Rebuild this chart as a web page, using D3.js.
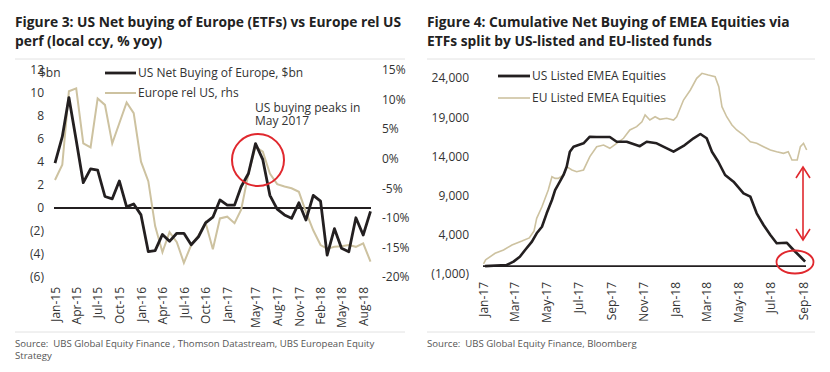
<!DOCTYPE html>
<html><head><meta charset="utf-8">
<script src="https://cdn.jsdelivr.net/npm/d3@7"></script>
<style>
body{margin:0;background:#fff;}
svg{display:block;font-family:"Open Sans",sans-serif;}
</style></head>
<body>
<svg id="c" width="830" height="372"></svg>
<script>
// ---------- Figure 3 data (monthly, Jan-15 .. Sep-18) ----------
const fig3Months = ["2015-01","2015-02","2015-03","2015-04","2015-05","2015-06","2015-07","2015-08","2015-09","2015-10","2015-11","2015-12",
"2016-01","2016-02","2016-03","2016-04","2016-05","2016-06","2016-07","2016-08","2016-09","2016-10","2016-11","2016-12",
"2017-01","2017-02","2017-03","2017-04","2017-05","2017-06","2017-07","2017-08","2017-09","2017-10","2017-11","2017-12",
"2018-01","2018-02","2018-03","2018-04","2018-05","2018-06","2018-07","2018-08","2018-09"];
const usNetBuying = [3.9,6.2,9.6,5.9,2.2,3.4,3.3,1.0,0.8,2.35,0.1,0.35,
-0.6,-3.8,-3.7,-2.3,-2.9,-2.2,-2.2,-3.2,-2.5,-1.3,-0.8,0.7,
0.25,0.25,1.85,3.0,5.6,4.2,1.1,-0.1,-0.6,-0.9,0.45,-1.05,
1.1,0.6,-4.1,-1.8,-3.5,-3.8,-0.85,-2.35,-0.3];
const europeRelUS = [-3.6,-1.0,11.4,11.9,2.6,1.9,10.2,9.1,2.6,6.0,9.5,7.7,
-0.5,-3.8,-11.4,-15.8,-12.4,-14.1,-17.6,-14.6,-13.0,-10.8,-15.3,-10.1,
-9.8,-10.9,-8.6,-2.5,2.0,1.2,-2.5,-4.3,-4.7,-5.0,-5.6,-9.0,
-12.1,-14.6,-15.2,-14.9,-14.8,-14.6,-14.9,-14.3,-17.4];
const fig3LeftTicks = [12,10,8,6,4,2,0,-2,-4,-6];
const fig3RightTicks = [15,10,5,0,-5,-10,-15,-20];
const fig3XLabels = ["2015-01","2015-04","2015-07","2015-10","2016-01","2016-04","2016-07","2016-10","2017-01","2017-05","2017-08","2017-11","2018-02","2018-05","2018-08"];

// ---------- Figure 4 data (cumulative, $m) ----------
const usListedDates = ["2017-01-05","2017-02-15","2017-02-28","2017-03-12","2017-03-22","2017-04-04","2017-04-13","2017-04-23","2017-05-02","2017-05-12","2017-05-18","2017-05-27","2017-06-03","2017-06-09","2017-06-15","2017-06-22","2017-07-11","2017-07-23","2017-08-05","2017-08-30","2017-09-12","2017-10-01","2017-10-26","2017-11-08","2017-11-27","2017-12-29","2018-01-17","2018-02-05","2018-02-18","2018-03-02","2018-03-12","2018-03-24","2018-04-06","2018-04-22","2018-05-11","2018-05-24","2018-06-05","2018-06-18","2018-07-01","2018-07-13","2018-08-01","2018-08-14","2018-08-27","2018-09-05"];
const usListedValues = [0,150,580,1200,2060,3120,4190,5030,6740,8440,9710,10770,11630,12690,14600,15240,15670,16510,16470,16470,15870,15870,15300,15870,15670,14600,15330,16310,16860,16310,14600,13320,11630,10770,9290,8860,6740,5250,3970,2920,2990,2060,1200,570];
const euListedDates = ["2017-01-02","2017-01-06","2017-01-24","2017-02-09","2017-02-25","2017-03-16","2017-03-30","2017-04-08","2017-04-13","2017-04-23","2017-05-05","2017-05-12","2017-05-18","2017-05-24","2017-06-03","2017-06-09","2017-06-19","2017-06-28","2017-07-11","2017-07-23","2017-08-05","2017-08-18","2017-08-30","2017-09-12","2017-09-25","2017-10-07","2017-10-20","2017-10-30","2017-11-05","2017-11-14","2017-11-24","2017-12-03","2017-12-16","2017-12-29","2018-01-04","2018-01-17","2018-01-30","2018-02-11","2018-02-21","2018-03-05","2018-03-18","2018-03-25","2018-03-31","2018-04-09","2018-04-19","2018-04-28","2018-05-11","2018-05-24","2018-06-05","2018-06-18","2018-07-01","2018-07-13","2018-07-26","2018-08-04","2018-08-11","2018-08-21","2018-08-27","2018-09-02","2018-09-08"];
const euListedValues = [300,800,1640,2060,2700,3200,3600,4500,6100,7580,9710,11410,11200,11200,11630,12690,12270,12050,12270,13970,15240,15450,15030,15670,16310,17370,17790,18420,19280,18640,19060,18730,18860,18640,19060,21190,22470,23960,24600,24380,24170,22890,20340,19060,18000,17370,16730,15870,15670,15240,14820,14600,14390,14600,13540,13540,15240,15670,14820];
const fig4YTicks = [24000,19000,14000,9000,4000,-1000];
const fig4XLabels = ["2017-01","2017-03","2017-05","2017-07","2017-09","2017-11","2018-01","2018-03","2018-05","2018-07","2018-09"];

const BLACK = "#231f20", GOLD = "#cdc2a0", RED = "#e0282e", TXT = "#333";
const svg = d3.select("#c");
const pm = d3.timeParse("%Y-%m"), pd = d3.timeParse("%Y-%m-%d");
const fmtM = d3.timeFormat("%b-%y");

function header(x0, x1, lines){
  const t = svg.append("text").attr("x", x0).attr("font-weight", 700).attr("font-size", 13.8).attr("fill", "#222");
  lines.forEach((l,i)=> t.append("tspan").attr("x", x0).attr("y", 27 + i*19).text(l));
  svg.append("line").attr("x1", x0).attr("x2", x1).attr("y1", 59).attr("y2", 59).attr("stroke", "#e2e2e2");
}
function footer(x0, x1, lines){
  svg.append("line").attr("x1", x0).attr("x2", x1).attr("y1", 332).attr("y2", 332).attr("stroke", "#e2e2e2");
  lines.forEach((l,i)=> svg.append("text").attr("x", x0).attr("y", 347 + i*12).attr("font-size", 9.6).attr("fill", "#555").attr("xml:space","preserve").text(l));
}

// ================= Figure 3 =================
header(15, 405, ["Figure 3: US Net buying of Europe (ETFs) vs Europe rel US", "perf (local ccy, % yoy)"]);
const x3 = d3.scaleTime().domain([pm("2015-01"), pm("2018-09")]).range([55, 370.5]);
const yL = d3.scaleLinear().domain([-6, 12]).range([277, 70]);
const yR = d3.scaleLinear().domain([-20, 15]).range([277, 70]);
const fmtL = v => v < 0 ? "(" + Math.abs(v) + ")" : String(v);

const gL = svg.append("g").attr("transform", "translate(44,0)")
  .call(d3.axisLeft(yL).tickValues(fig3LeftTicks).tickFormat(fmtL).tickSize(0).tickPadding(0));
const gR = svg.append("g").attr("transform", "translate(382,0)")
  .call(d3.axisRight(yR).tickValues(fig3RightTicks).tickFormat(v => v + "%").tickSize(0).tickPadding(0));
[gL, gR].forEach(g => { g.select(".domain").remove(); g.selectAll("text").attr("font-size", 12).attr("fill", TXT).attr("font-family", "Open Sans"); });

svg.append("text").attr("x", 39).attr("y", 77).attr("font-size", 12).attr("fill", TXT).text("$bn");

const gx3 = svg.append("g").attr("transform", "translate(0,287)")
  .call(d3.axisBottom(x3).tickValues(fig3XLabels.map(pm)).tickFormat(fmtM).tickSize(0).tickPadding(0));
gx3.select(".domain").remove();
gx3.selectAll("text").attr("font-size", 12).attr("fill", TXT).attr("font-family", "Open Sans")
  .attr("transform", "rotate(-90)").attr("text-anchor", "end").attr("x", 0).attr("y", 0).attr("dy", "0.35em");

svg.append("line").attr("x1", 54).attr("x2", 371).attr("y1", yL(0)).attr("y2", yL(0)).attr("stroke", BLACK).attr("stroke-width", 1.8);

const d3dates = fig3Months.map(pm);
svg.append("path").datum(europeRelUS).attr("fill", "none").attr("stroke", GOLD).attr("stroke-width", 2)
  .attr("d", d3.line().x((d,i)=>x3(d3dates[i])).y(d=>yR(d)));
svg.append("path").datum(usNetBuying).attr("fill", "none").attr("stroke", BLACK).attr("stroke-width", 2.8).attr("stroke-linejoin","round")
  .attr("d", d3.line().x((d,i)=>x3(d3dates[i])).y(d=>yL(d)));

// legend
svg.append("line").attr("x1",105).attr("x2",136).attr("y1",73).attr("y2",73).attr("stroke",BLACK).attr("stroke-width",2.8);
svg.append("line").attr("x1",105).attr("x2",136).attr("y1",93).attr("y2",93).attr("stroke",GOLD).attr("stroke-width",2);
svg.append("text").attr("x",138).attr("y",77).attr("font-size",12).attr("fill",TXT).text("US Net Buying of Europe, $bn");
svg.append("text").attr("x",138).attr("y",97).attr("font-size",12).attr("fill",TXT).text("Europe rel US, rhs");

// annotation
const ann = svg.append("text").attr("font-size",12).attr("fill",TXT);
ann.append("tspan").attr("x",255).attr("y",112).text("US buying peaks in");
ann.append("tspan").attr("x",255).attr("y",125).text("May 2017");
svg.append("circle").attr("cx",258).attr("cy",160).attr("r",26).attr("fill","none").attr("stroke",RED).attr("stroke-width",2);

footer(15, 405, ["Source:  UBS Global Equity Finance , Thomson Datastream, UBS European Equity", "Strategy"]);

// ================= Figure 4 =================
header(427, 815, ["Figure 4: Cumulative Net Buying of EMEA Equities via", "ETFs split by US-listed and EU-listed funds"]);
const x4 = d3.scaleTime().domain([pm("2017-01"), pm("2018-09")]).range([483, 803]);
const y4 = d3.scaleLinear().domain([-1000, 24000]).range([274, 78]);
const fmt4 = v => v < 0 ? "(" + d3.format(",")(-v) + ")" : d3.format(",")(v);
const g4 = svg.append("g").attr("transform", "translate(469,0)")
  .call(d3.axisLeft(y4).tickValues(fig4YTicks).tickFormat(fmt4).tickSize(0).tickPadding(0));
g4.select(".domain").remove();
g4.selectAll("text").attr("font-size", 12).attr("fill", TXT).attr("font-family", "Open Sans");

const gx4 = svg.append("g").attr("transform", "translate(0,282)")
  .call(d3.axisBottom(x4).tickValues(fig4XLabels.map(pm)).tickFormat(fmtM).tickSize(0).tickPadding(0));
gx4.select(".domain").remove();
gx4.selectAll("text").attr("font-size", 12).attr("fill", TXT).attr("font-family", "Open Sans")
  .attr("transform", "rotate(-90)").attr("text-anchor", "end").attr("x", 0).attr("y", 0).attr("dy", "0.35em");

svg.append("line").attr("x1", 483).attr("x2", 806).attr("y1", y4(0)).attr("y2", y4(0)).attr("stroke", BLACK).attr("stroke-width", 1.8);

const euD = euListedDates.map(pd), usD = usListedDates.map(pd);
svg.append("path").datum(euListedValues).attr("fill","none").attr("stroke",GOLD).attr("stroke-width",1.6)
  .attr("d", d3.line().x((d,i)=>x4(euD[i])).y(d=>y4(d)));
svg.append("path").datum(usListedValues).attr("fill","none").attr("stroke",BLACK).attr("stroke-width",2.6).attr("stroke-linejoin","round")
  .attr("d", d3.line().x((d,i)=>x4(usD[i])).y(d=>y4(d)));

svg.append("line").attr("x1",498).attr("x2",530).attr("y1",76).attr("y2",76).attr("stroke",BLACK).attr("stroke-width",2.8);
svg.append("line").attr("x1",498).attr("x2",530).attr("y1",98).attr("y2",98).attr("stroke",GOLD).attr("stroke-width",1.6);
svg.append("text").attr("x",532).attr("y",80).attr("font-size",12).attr("fill",TXT).text("US Listed EMEA Equities");
svg.append("text").attr("x",532).attr("y",102).attr("font-size",12).attr("fill",TXT).text("EU Listed EMEA Equities");

// red annotations
svg.append("line").attr("x1",803).attr("x2",803).attr("y1",168).attr("y2",239).attr("stroke",RED).attr("stroke-width",1.6);
svg.append("path").attr("d","M796,178 L803,167 L810,178 M796,229 L803,240 L810,229").attr("fill","none").attr("stroke",RED).attr("stroke-width",1.6);
svg.append("ellipse").attr("cx",795).attr("cy",262).attr("rx",18.5).attr("ry",11.5).attr("fill","none").attr("stroke",RED).attr("stroke-width",1.8);

footer(427, 815, ["Source:  UBS Global Equity Finance, Bloomberg"]);
</script>
</body></html>
